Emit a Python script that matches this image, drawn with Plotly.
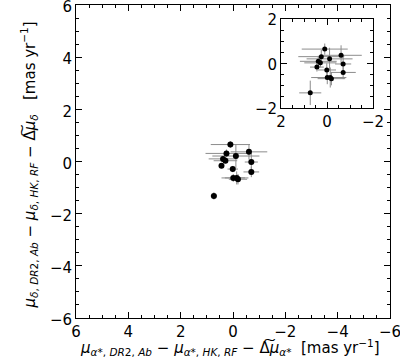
import plotly.graph_objects as go

# data (mas/yr)
dx = [0.10, 0.25, -0.61, -0.11, 0.38, 0.29, 0.44, -0.70, 0.01, -0.70, -0.01, -0.14, -0.19, 0.73]
dy = [0.65, 0.31, 0.37, 0.21, 0.10, 0.03, -0.16, -0.02, -0.29, -0.40, -0.63, -0.63, -0.68, -1.32]
# main-panel errors
ex_main = [0.75, 0.80, 0.70, 0.90, 0.55, 0.45, 0.10, 0.25, 0.20, 0.30, 0.45, 0.45, 0.35, 0.12]
ey_main = [0.13, 0.15, 0.30, 0.45, 0.12, 0.10, 0.10, 0.35, 0.12, 0.20, 0.15, 0.25, 0.20, 0.14]
# inset-panel errors
ex_in = [1.00, 1.00, 0.90, 1.00, 0.80, 0.70, 0.30, 0.35, 0.40, 0.55, 0.70, 0.70, 0.60, 0.48]
ey_in = [0.25, 0.30, 0.45, 0.50, 0.25, 0.20, 0.20, 0.40, 0.30, 0.30, 0.30, 0.45, 0.30, 0.55]

main_ticks = [-6, -4, -2, 0, 2, 4, 6]
inset_ticks = [-2, 0, 2]

FONT = "DejaVu Sans"
ERRC = "#8c8c8c"

fig = go.Figure()
fig.add_trace(go.Scatter(
    x=dx, y=dy, mode="markers",
    marker=dict(color="black", size=6),
    error_x=dict(type="data", array=ex_main, color=ERRC, thickness=1, width=0),
    error_y=dict(type="data", array=ey_main, color=ERRC, thickness=1, width=0),
    xaxis="x", yaxis="y", showlegend=False))
fig.add_trace(go.Scatter(
    x=dx, y=dy, mode="markers",
    marker=dict(color="black", size=5),
    error_x=dict(type="data", array=ex_in, color=ERRC, thickness=1, width=0),
    error_y=dict(type="data", array=ey_in, color=ERRC, thickness=1, width=0),
    xaxis="x2", yaxis="y2", showlegend=False))

def ax(rng, ticks, domain, anchor, shift=0):
    return dict(range=rng, domain=domain, anchor=anchor, automargin=False,
                tickvals=ticks, ticktext=[("−" + str(-t)) if t < 0 else str(t) for t in ticks],
                ticks="inside", ticklen=6, tickwidth=1, tickcolor="black",
                ticklabeloverflow="allow", ticklabelshift=shift,
                minor=dict(dtick=0.5, ticks="inside", ticklen=3, tickcolor="black", tickwidth=1),
                mirror="allticks", showline=True, linecolor="black", linewidth=1,
                showgrid=False, zeroline=False,
                tickfont=dict(family=FONT, size=15, color="black"))

xt = ("<i>μ</i><sub><i>α</i>*, <i>DR</i>2, <i>Ab</i></sub> − <i>μ</i><sub><i>α</i>*, <i>HK</i>, <i>RF</i></sub>"
      " − Δ͠<i>μ</i><sub><i>α</i>*</sub>  [mas yr<sup>−1</sup>]")
yt = ("<i>μ</i><sub><i>δ</i>, <i>DR</i>2, <i>Ab</i></sub> − <i>μ</i><sub><i>δ</i>, <i>HK</i>, <i>RF</i></sub>"
      " − Δ͠<i>μ</i><sub><i>δ</i></sub>   [mas yr<sup>−1</sup>]")

x0, x1 = 0.653, 0.946
y0, y1 = 0.671, 0.955
fig.update_layout(
    width=400, height=364,
    margin=dict(l=76, r=10, t=5, b=46, autoexpand=False),
    plot_bgcolor="white", paper_bgcolor="white",
    xaxis=ax([6, -6], main_ticks, [0, 1], "y"),
    yaxis=ax([-6, 6], main_ticks, [0, 1], "x", shift=2),
    xaxis2=ax([2, -2], inset_ticks, [x0, x1], "y2"),
    yaxis2=ax([-2, 2], inset_ticks, [y0, y1], "x2", shift=1),
)
fig.add_annotation(text=xt, xref="paper", yref="paper", x=0.49, y=-0.093,
                   xanchor="center", yanchor="middle", showarrow=False,
                   font=dict(family=FONT, size=15, color="black"))
fig.add_annotation(text=yt, xref="paper", yref="paper", x=-0.15, y=0.49,
                   xanchor="center", yanchor="middle", showarrow=False, textangle=-90,
                   font=dict(family=FONT, size=15, color="black"))
fig.add_shape(type="rect", xref="paper", yref="paper", x0=x0, x1=x1, y0=y0, y1=y1,
              fillcolor="white", line=dict(width=0), layer="below")
fig.write_html("out.html", config={"displayModeBar": False},
               post_script="document.body.style.margin='0';document.body.style.overflow='hidden';")
